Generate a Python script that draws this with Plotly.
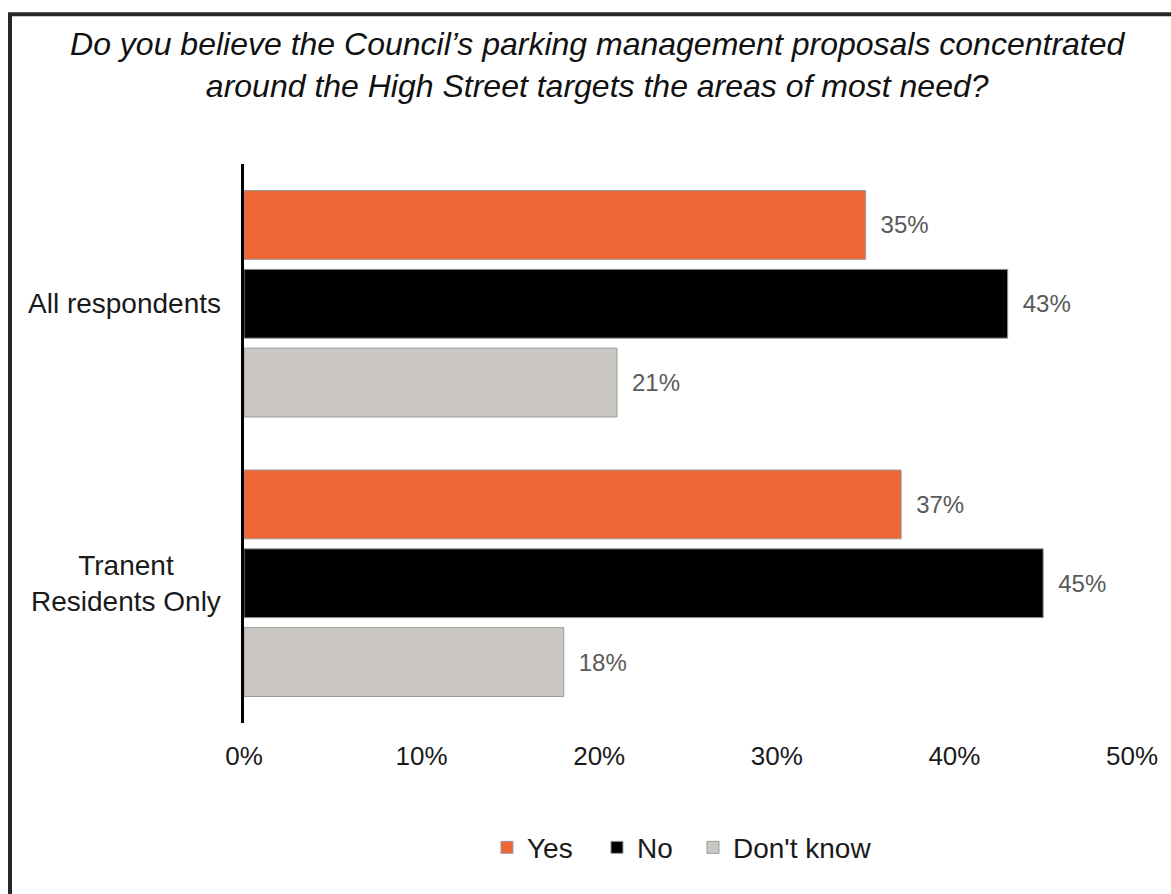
import plotly.graph_objects as go

# Survey question and response data
title_lines = [
    "Do you believe the Council\u2019s parking management proposals concentrated",
    "around the High Street targets the areas of most need?",
]
categories = ["All respondents", "Tranent<br>Residents Only"]
series_names = ["Yes", "No", "Don't know"]
yes_pct = [35, 37]
no_pct = [43, 45]
dont_know_pct = [21, 18]
x_ticks = [0, 10, 20, 30, 40, 50]

series_values = [yes_pct, no_pct, dont_know_pct]
series_colors = ["#ED6634", "#000000", "#CBC7C2"]
legend_ids = ["legend", "legend2", "legend3"]
legend_x = [0.2736, 0.3975, 0.5056]

FONT = "Liberation Sans, Arial, sans-serif"

fig = go.Figure()
for name, vals, color, lg in zip(series_names, series_values, series_colors, legend_ids):
    fig.add_trace(
        go.Bar(
            name=name,
            y=categories,
            x=vals,
            orientation="h",
            marker=dict(color=color, line=dict(color="#9A9A9A", width=1)),
            texttemplate="\u2002%{x}%",
            textposition="outside",
            textfont=dict(family=FONT, size=24, color="#595959"),
            cliponaxis=False,
            legend=lg,
            showlegend=True,
        )
    )

# Category labels, centred line by line
for cat in categories:
    fig.add_annotation(
        x=-0.0236, xref="paper", xanchor="right",
        y=cat, yref="y", yanchor="middle",
        text=cat, align="center", showarrow=False,
        font=dict(family=FONT, size=28, color="#1A1A1A"),
    )

# Outer frame (left and top edges visible)
fig.add_shape(
    type="rect", xref="paper", yref="paper",
    x0=-0.2635, x1=1.3, y0=-0.4, y1=1.2679,
    line=dict(color="#262626", width=4), fillcolor="rgba(0,0,0,0)",
    layer="above",
)

legend_style = dict(
    orientation="h", xanchor="left", y=-0.223, yanchor="middle",
    font=dict(family=FONT, size=28, color="#1A1A1A"),
    bgcolor="rgba(0,0,0,0)",
)

fig.update_layout(
    width=1171, height=894,
    paper_bgcolor="white", plot_bgcolor="white",
    margin=dict(l=244, r=39, t=164, b=171),
    barmode="group", bargap=0.154, bargroupgap=0.127,
    showlegend=True,
    title=dict(
        text="<br>".join(title_lines),
        x=0.51, xref="container", xanchor="center",
        y=0.9385, yref="container", yanchor="top",
        font=dict(family=FONT, size=32, color="#111111", style="italic"),
    ),
    font=dict(family=FONT),
    legend=dict(x=legend_x[0], **legend_style),
    legend2=dict(x=legend_x[1], **legend_style),
    legend3=dict(x=legend_x[2], **legend_style),
    xaxis=dict(
        range=[0, 50], tickvals=x_ticks, ticktext=[f"{v}%" for v in x_ticks],
        showgrid=False, zeroline=False, showline=False,
        ticks="outside", ticklen=10, tickcolor="rgba(0,0,0,0)",
        tickfont=dict(family=FONT, size=26, color="#1A1A1A"),
    ),
    yaxis=dict(
        autorange="reversed", showticklabels=False, showgrid=False,
        zeroline=False, showline=True, linecolor="#000000", linewidth=3,
        ticks="",
    ),
)

fig.write_html("out.html")
